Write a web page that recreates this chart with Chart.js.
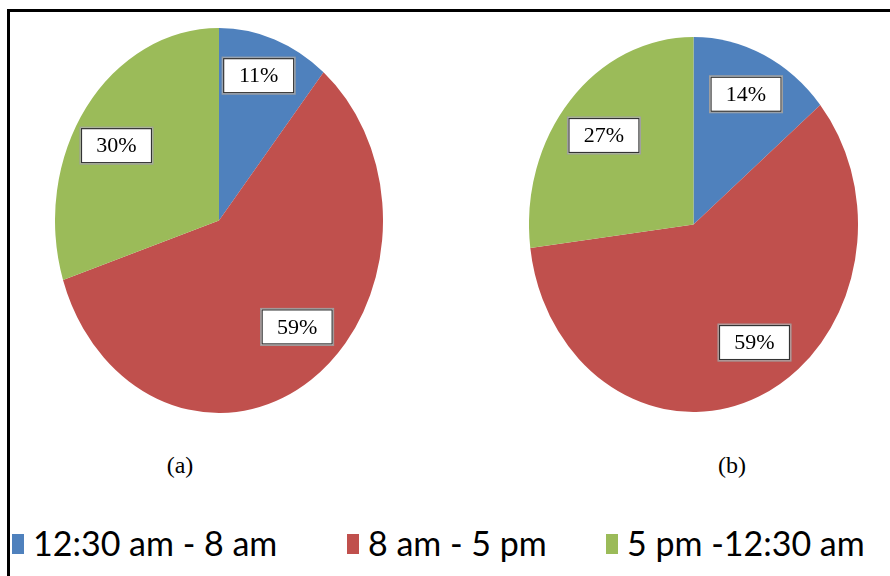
<!DOCTYPE html>
<html>
<head>
<meta charset="utf-8">
<script src="https://cdn.jsdelivr.net/npm/chart.js"></script>
<style>
  body { margin: 0; background: #fff; width: 890px; height: 576px; overflow: hidden; position: relative; }
  #frame { position: absolute; left: 7px; top: 9px; width: 900px; height: 600px; border-left: 3px solid #000; border-top: 3px solid #000; box-sizing: border-box; }
  .pie { position: absolute; }
  .panel { position: absolute; top: 452px; width: 60px; text-align: center; font-family: "Liberation Serif", serif; font-size: 24px; color: #000; }
  .legend-item { position: absolute; top: 523px; height: 40px; font-family: Lato, "Liberation Sans", sans-serif; font-size: 34px; line-height: 40px; color: #000; white-space: nowrap; }
  .legend-item span.box { position: absolute; left: 0; top: 11px; width: 12px; height: 20px; }
  .legend-item span.txt { position: absolute; left: 21px; top: 0; }
</style>
</head>
<body>
<div id="frame"></div>
<div class="pie" style="left:55px; top:28px; width:328px; height:385px;"><canvas id="pieA"></canvas></div>
<div class="pie" style="left:529px; top:37px; width:329px; height:375px;"><canvas id="pieB"></canvas></div>
<div id="panels"></div>
<div id="legend"></div>
<script>
// data
const sliceLabels = ['12:30 am - 8 am', '8 am - 5 pm', '5 pm -12:30 am'];
const valuesA = [11, 59, 30];
const valuesB = [14, 59, 27];
const sliceColors = ['#4F81BD', '#C0504D', '#9BBB59'];
const panelLabels = ['(a)', '(b)'];

// small pixel nudges for the data label boxes (Excel "best fit" placement)
const labelNudgeA = [[-2, -9], [9, -13], [-3, 10]];
const labelNudgeB = [[0, -3], [12, -11], [3, 4]];

// pies are drawn as circles by Chart.js, stretched vertically to the chart area height
const ellipsePlugin = {
  id: 'ellipse',
  beforeDatasetsDraw(chart) {
    const {ctx, chartArea} = chart;
    const arc = chart.getDatasetMeta(0).data[0];
    const sy = (chartArea.height / 2) / arc.outerRadius;
    chart.$sy = sy;
    ctx.save();
    ctx.translate(arc.x, arc.y);
    ctx.scale(1, sy);
    ctx.translate(-arc.x, -arc.y);
  },
  afterDatasetsDraw(chart, args, opts) {
    const ctx = chart.ctx;
    ctx.restore();
    const sy = chart.$sy;
    const data = chart.data.datasets[0].data;
    const total = data.reduce((a, b) => a + b, 0);
    const nudge = opts.nudge || [];
    chart.getDatasetMeta(0).data.forEach((arc, i) => {
      const mid = (arc.startAngle + arc.endAngle) / 2;
      const r = arc.outerRadius * 0.75;
      const n = nudge[i] || [0, 0];
      const x = arc.x + Math.cos(mid) * r + n[0];
      const y = arc.y + Math.sin(mid) * r * sy + n[1];
      const w = 72, h = 36;
      ctx.save();
      ctx.fillStyle = '#fff';
      ctx.fillRect(x - w / 2, y - h / 2, w, h);
      ctx.strokeStyle = '#a0a0a0';
      ctx.lineWidth = 1;
      ctx.strokeRect(x - w / 2 - 0.5, y - h / 2 - 0.5, w + 1, h + 1);
      ctx.strokeStyle = '#333';
      ctx.lineWidth = 1.2;
      ctx.strokeRect(x - w / 2 + 1, y - h / 2 + 1, w - 2, h - 2);
      ctx.fillStyle = '#000';
      ctx.font = '22px "Liberation Serif", serif';
      ctx.textAlign = 'center';
      ctx.textBaseline = 'middle';
      ctx.fillText(Math.round(data[i] / total * 100) + '%', x, y + 1);
      ctx.restore();
    });
  }
};

function makePie(id, values, nudge) {
  return new Chart(document.getElementById(id), {
    type: 'pie',
    data: {
      labels: sliceLabels,
      datasets: [{
        data: values,
        backgroundColor: sliceColors,
        borderWidth: 0
      }]
    },
    options: {
      responsive: true,
      maintainAspectRatio: false,
      animation: false,
      layout: { padding: 0 },
      events: [],
      plugins: {
        legend: { display: false },
        tooltip: { enabled: false },
        ellipse: { nudge: nudge }
      }
    },
    plugins: [ellipsePlugin]
  });
}

makePie('pieA', valuesA, labelNudgeA);
makePie('pieB', valuesB, labelNudgeB);

// panel captions
const panelX = [150, 702];
const panels = document.getElementById('panels');
panelLabels.forEach((t, i) => {
  const d = document.createElement('div');
  d.className = 'panel';
  d.style.left = panelX[i] + 'px';
  d.textContent = t;
  panels.appendChild(d);
});

// legend
const legendX = [12, 347, 606];
const legend = document.getElementById('legend');
sliceLabels.forEach((t, i) => {
  const d = document.createElement('div');
  d.className = 'legend-item';
  d.style.left = legendX[i] + 'px';
  d.innerHTML = '<span class="box" style="background:' + sliceColors[i] + '"></span><span class="txt"></span>';
  d.querySelector('.txt').textContent = t;
  legend.appendChild(d);
});
</script>
</body>
</html>
